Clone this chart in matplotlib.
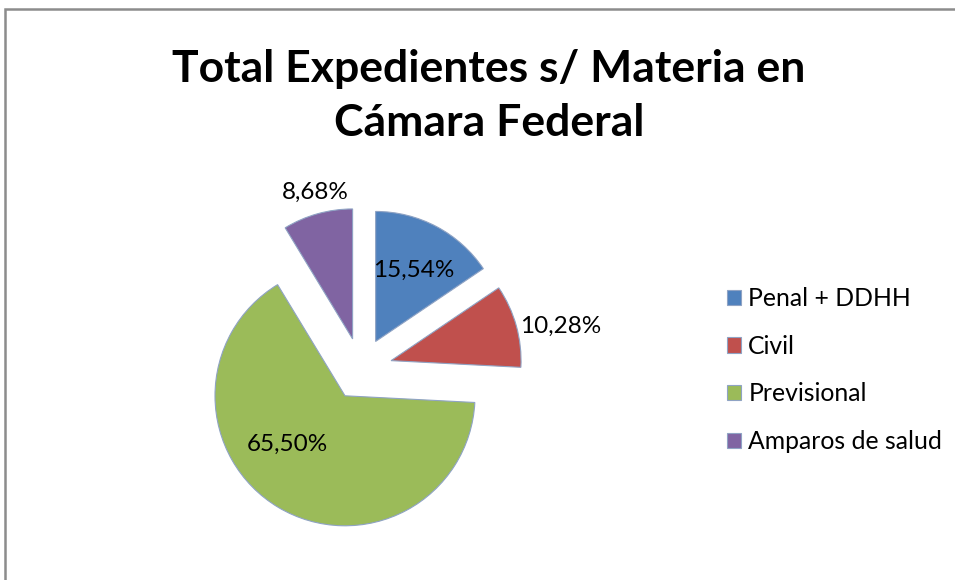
import numpy as np
import matplotlib
matplotlib.use("Agg")
import matplotlib.pyplot as plt
from matplotlib.patches import Rectangle

plt.rcParams['font.family'] = ['Lato', 'DejaVu Sans']

# data
categorias = ["Penal + DDHH", "Civil", "Previsional", "Amparos de salud"]
porcentajes = [15.54, 10.28, 65.50, 8.68]
colores = ["#4F81BD", "#C0504D", "#9BBB59", "#8064A2"]

# label placement: (distance from slice apex, angle shift in degrees)
etiq_dist = [0.62, 1.33, 0.58, 1.16]
etiq_shift = [0, -4, -19, -1.5]
explode = 0.24

fig = plt.figure(figsize=(9.55, 5.8), dpi=100)

# outer frame (runs off the right and bottom edge)
fig.patches.append(Rectangle((5 / 955, -0.1), 1.2, (580 - 9) / 580 + 0.1,
                             transform=fig.transFigure, fill=False,
                             edgecolor="#8c8c8c", linewidth=1.8))

fig.text(489 / 955, 1 - 96 / 580, "Total Expedientes s/ Materia en\nCámara Federal",
         ha="center", va="center", fontsize=32, fontweight="bold",
         linespacing=1.45)

cx, cy, half, r_px = 361, 369, 200, 130
ax = fig.add_axes([(cx - half) / 955, (580 - cy - half) / 580,
                   2 * half / 955, 2 * half / 580])
wedges, _ = ax.pie(porcentajes, colors=colores, startangle=90, counterclock=False,
                   explode=[explode] * len(porcentajes),
                   wedgeprops=dict(edgecolor="#8fa3c4", linewidth=0.8))
lim = half / r_px
ax.set_xlim(-lim, lim)
ax.set_ylim(-lim, lim)
ax.set_aspect("equal")
ax.axis("off")

for w, p, d, s in zip(wedges, porcentajes, etiq_dist, etiq_shift):
    mid = np.deg2rad((w.theta1 + w.theta2) / 2)
    ox, oy = w.center
    ang = mid + np.deg2rad(s)
    ax.text(ox + d * np.cos(ang), oy + d * np.sin(ang),
            ("%.2f%%" % p).replace(".", ","), ha="center", va="center",
            fontsize=17.5)

# legend
handles = [plt.Rectangle((0, 0), 1, 1, facecolor=c, edgecolor="#8fa3c4", linewidth=0.8)
           for c in colores]
fig.legend(handles, categorias, loc="center left",
           bbox_to_anchor=(705 / 955, 1 - 370 / 580), frameon=False,
           fontsize=17.8, handlelength=0.57, handleheight=0.57,
           handletextpad=0.28, labelspacing=1.0)

plt.savefig("out.png", dpi=100)
